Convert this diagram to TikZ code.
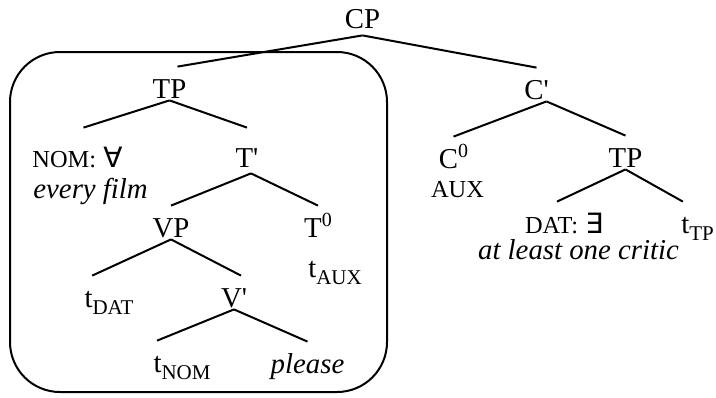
\documentclass[tikz,border=0pt]{standalone}
\usepackage{fontspec}
\setmainfont{Liberation Serif}
\newfontfamily\quantfont{DejaVu Sans}

\newcommand{\trsub}[1]{\raisebox{-3.5pt}{\fontsize{10.5}{12}\selectfont #1}}
\newcommand{\headzero}{\raisebox{5.5pt}{\fontsize{10}{12}\selectfont 0}}
\newcommand{\feat}[1]{{\fontsize{12.2}{14}\selectfont #1}}
\newcommand{\quant}[1]{{\quantfont\fontsize{14}{16}\selectfont #1}}

\begin{document}
\begin{tikzpicture}[x=0.5pt, y=-0.5pt, font=\fontsize{14.4}{17}\selectfont,
    cat/.style={anchor=base, inner sep=1pt, text height=14.5pt, text depth=0pt},
    gloss/.style={anchor=base, inner sep=0pt},
    branch/.style={line width=1pt}]

  \useasboundingbox (0,0) rectangle (716,397);

  % Root
  \node[cat] (CP) at (362.5,28) {CP};

  %%%%%%%%%%%%%%%%%%%%%%%%%%%%%%%%%%%%%%%%%%%%%%%%%
  \begin{scope}
    % Box round the lower TP
    \draw[line width=1pt, rounded corners=25pt] (10,52) rectangle (387,392);

    % Nodes
    \node[cat] (TPa) at (169.5,98) {TP};
    \node[cat, text height=18.5pt] (NOM) at (77.5,167) {\feat{NOM:} \quant{∀}};
    \node[gloss, anchor=base west] (everyfilm) at (33,198) {\itshape every film};
    \node[cat, text height=18.5pt] (Tbar) at (247,167) {T\textquotesingle};
    \node[cat] (VP) at (171,237) {VP};
    \node[cat] (T0) at (318,237) {T\headzero};
    \node[cat] (tAUX) at (335,277) {t\trsub{AUX}};
    \node[cat] (tDAT) at (109,307) {t\trsub{DAT}};
    \node[cat] (Vbar) at (234,307) {V\textquotesingle};
    \node[cat] (tNOM) at (182,372) {t\trsub{NOM}};
    \node[cat] (please) at (307.5,373) {\itshape please};

    % Branches
    \draw[branch] ([yshift=-2.5pt]CP.south) -- ([xshift=4pt]TPa.north);
    \draw[branch] (TPa.south) -- ([xshift=3pt]NOM.north);
    \draw[branch] (TPa.south) -- (Tbar.north);
    \draw[branch] ([xshift=2pt,yshift=-2pt]Tbar.south) -- (VP.north);
    \draw[branch] ([xshift=2pt,yshift=-2pt]Tbar.south) -- (T0.north);
    \draw[branch] (VP.south) -- ([xshift=5pt]tDAT.north west);
    \draw[branch] (VP.south) -- ([xshift=3.5pt]Vbar.north);
    \draw[branch] (Vbar.south) -- ([xshift=3pt]tNOM.north west);
    \draw[branch] (Vbar.south) -- (please.north);
  \end{scope}

  %%%%%%%%%%%%%%%%%%%%%%%%%%%%%%%%%%%%%%%%%%%%%%%%%
  \begin{scope}
    % Nodes
    \node[cat] (Cbar) at (536.5,99) {C\textquotesingle};
    \node[cat] (C0) at (453.5,168) {C\headzero};
    \node[gloss] (aux) at (457.5,197) {\feat{AUX}};
    \node[cat] (TPb) at (625.5,167) {TP};
    \node[cat] (DAT) at (564,233) {\feat{DAT:} \quant{∃}};
    \node[cat] (tTP) at (697.5,233) {t\trsub{TP}};
    \node[gloss] (critic) at (578.5,259) {\itshape at least one critic};

    % Branches
    \draw[branch] ([yshift=-2.5pt]CP.south) -- (Cbar.north);
    \draw[branch] ([xshift=5pt]Cbar.south) -- (C0.north);
    \draw[branch] ([xshift=5pt]Cbar.south) -- (TPb.north);
    \draw[branch] (TPb.south) -- ([xshift=-3.5pt]DAT.north);
    \draw[branch] (TPb.south) -- ([xshift=2pt]tTP.north west);
  \end{scope}

\end{tikzpicture}
\end{document}
